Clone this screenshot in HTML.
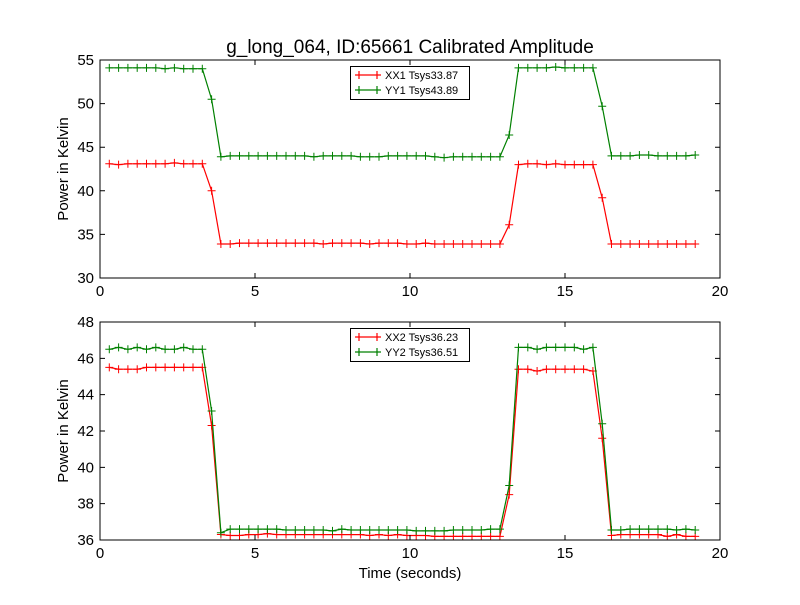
<!DOCTYPE html>
<html><head><meta charset="utf-8"><style>
body{margin:0;background:#fff}
svg text{font-family:"Liberation Sans","DejaVu Sans",sans-serif;fill:#000}
</style></head><body>
<svg id="c" width="800" height="600" xmlns="http://www.w3.org/2000/svg">
<rect width="800" height="600" fill="#fff"/>
<text x="410" y="53" font-size="19" text-anchor="middle">g_long_064, ID:65661 Calibrated Amplitude</text>
<text x="410" y="578" font-size="15" text-anchor="middle">Time (seconds)</text>
</svg>
<script>
const times = Array.from({length:64},(_, i)=>+(0.3*(i+1)).toFixed(2));
const xx1 = [43.1,43.0,43.1,43.1,43.1,43.1,43.1,43.2,43.1,43.1,43.1,40.0,
 33.9,33.9,34.0,34.0,34.0,34.0,34.0,34.0,34.0,34.0,34.0,33.9,34.0,34.0,34.0,34.0,33.9,34.0,34.0,34.0,33.9,33.9,34.0,33.9,33.9,33.9,33.9,33.9,33.9,33.9,33.9,
 36.1,43.0,43.1,43.1,43.0,43.1,43.0,43.0,43.0,43.0,
 39.2,33.9,33.9,33.9,33.9,33.9,33.9,33.9,33.9,33.9,33.9];
const yy1 = [54.1,54.1,54.1,54.1,54.1,54.1,54.0,54.1,54.0,54.0,54.0,50.5,
 43.9,44.0,44.0,44.0,44.0,44.0,44.0,44.0,44.0,44.0,43.9,44.0,44.0,44.0,44.0,43.9,43.9,43.9,44.0,44.0,44.0,44.0,44.0,43.9,43.8,43.9,43.9,43.9,43.9,43.9,43.9,
 46.4,54.1,54.1,54.1,54.1,54.2,54.1,54.1,54.1,54.1,
 49.7,44.0,44.0,44.0,44.1,44.1,44.0,44.0,44.0,44.0,44.1];
const xx2 = [45.5,45.4,45.4,45.4,45.5,45.5,45.5,45.5,45.5,45.5,45.5,42.3,
 36.3,36.25,36.25,36.3,36.3,36.35,36.3,36.3,36.3,36.3,36.3,36.3,36.3,36.3,36.3,36.3,36.25,36.3,36.25,36.3,36.25,36.25,36.25,36.2,36.2,36.2,36.2,36.2,36.2,36.2,36.2,
 38.5,45.4,45.4,45.3,45.4,45.4,45.4,45.4,45.4,45.3,
 41.6,36.25,36.3,36.3,36.3,36.3,36.3,36.2,36.3,36.2,36.2];
const yy2 = [46.5,46.6,46.5,46.6,46.5,46.6,46.5,46.5,46.6,46.5,46.5,43.1,
 36.4,36.6,36.6,36.6,36.6,36.6,36.6,36.55,36.55,36.55,36.55,36.55,36.5,36.6,36.55,36.55,36.55,36.55,36.55,36.55,36.55,36.5,36.5,36.5,36.5,36.55,36.55,36.55,36.55,36.6,36.6,
 39.0,46.6,46.6,46.5,46.6,46.6,46.6,46.6,46.5,46.6,
 42.4,36.55,36.55,36.6,36.6,36.6,36.6,36.6,36.55,36.6,36.55];
const xTicks = [0,5,10,15,20];
const yTicks1 = [30,35,40,45,50,55];
const yTicks2 = [36,38,40,42,44,46,48];

const NS="http://www.w3.org/2000/svg", svg=document.getElementById('c');
function mk(t,a,p){const e=document.createElementNS(NS,t);for(const k in a)e.setAttribute(k,a[k]);(p||svg).appendChild(e);return e;}

function panel(top,bot,ymin,ymax,yt,series,labels,name){
  const L=100,R=720;
  const g=mk('g',{});
  
  
  const xs=v=>L+(v-0)/(20-0)*(R-L);
  const ys=v=>bot-(v-ymin)/(ymax-ymin)*(bot-top);
  const colors=['#ff0000','#008000'];
  series.forEach((s,si)=>{
    const pts=times.map((t,i)=>xs(t).toFixed(1)+','+ys(s[i]).toFixed(1)).join(' ');
    const pl=mk('polyline',{points:pts,fill:'none',stroke:colors[si],'stroke-width':1.2},g);
    
    
    times.forEach((t,i)=>{
      const x=xs(t),y=ys(s[i]);
      const m=mk('path',{d:`M${x-4},${y}H${x+4}M${x},${y-4}V${y+4}`,stroke:colors[si],'stroke-width':1},g);
      
      
    });
  });
  const fr=mk('rect',{x:L,y:top,width:R-L,height:bot-top,fill:'none',stroke:'#000','stroke-width':1},g);
  
  
  xTicks.forEach(v=>{
    const x=xs(v);
    mk('path',{d:`M${x},${bot}v-5M${x},${top}v5`,stroke:'#000'},g);
    const t=mk('text',{x:x,y:bot+18,'font-size':15,'text-anchor':'middle'},g);
    t.textContent=v;
    
    
  });
  yt.forEach(v=>{
    const y=ys(v);
    mk('path',{d:`M${L},${y}h5M${R},${y}h-5`,stroke:'#000'},g);
    const t=mk('text',{x:L-6,y:y+5,'font-size':15,'text-anchor':'end'},g);
    t.textContent=v;
    
    
  });
  const yl=mk('text',{x:0,y:0,'font-size':15,'text-anchor':'middle',transform:`translate(68,${(top+bot)/2}) rotate(-90)`},g);
  yl.textContent='Power in Kelvin';
  
  
  const lg=mk('g',{},g);
  
  
  mk('rect',{x:350.5,y:top+6.5,width:119,height:33,fill:'#fff',stroke:'#000'},lg);
  labels.forEach((lab,i)=>{
    const y=top+15+i*15;
    mk('path',{d:`M355,${y}h26M359,${y-4}v8M377,${y-4}v8`,stroke:colors[i],'stroke-width':1.2},lg);
    const t=mk('text',{x:385,y:y+4,'font-size':11},lg);
    t.textContent=lab;
    
    
  });
}
panel(60,278,30,55,yTicks1,[xx1,yy1],['XX1 Tsys33.87','YY1 Tsys43.89'],'top-panel');
panel(322,540,36,48,yTicks2,[xx2,yy2],['XX2 Tsys36.23','YY2 Tsys36.51'],'bottom-panel');
</script>
</body></html>
